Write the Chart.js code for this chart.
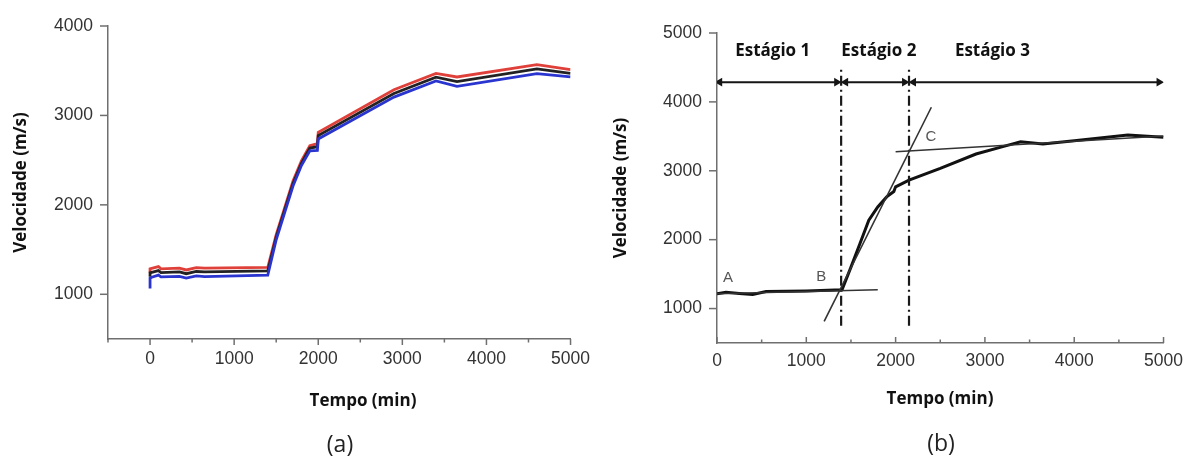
<!DOCTYPE html>
<html>
<head>
<meta charset="utf-8">
<script src="https://cdn.jsdelivr.net/npm/chart.js@4.4.1/dist/chart.umd.min.js"></script>
<style>
  body { margin: 0; background: #fff; width: 1191px; height: 456px; overflow: hidden; position: relative; font-family: "Open Sans", sans-serif; }
  .panel { position: absolute; top: 0; height: 420px; }
  #wrapA { left: 0; width: 600px; }
  #wrapB { left: 600px; width: 591px; }
  .xt { position: absolute; font-weight: bold; font-size: 17px; line-height: 20px; color: #111; transform: translateX(-50%); white-space: nowrap; }
  .cap { position: absolute; font-size: 23px; line-height: 26px; color: #222; transform: translateX(-50%); }
</style>
</head>
<body>
<div class="panel" id="wrapA"><canvas id="chartA"></canvas></div>
<div class="panel" id="wrapB"><canvas id="chartB"></canvas></div>
<div class="xt" style="left:363px;top:390px">Tempo (min)</div>
<div class="xt" style="left:940px;top:388px">Tempo (min)</div>
<div class="cap" style="left:340px;top:430px">(a)</div>
<div class="cap" style="left:941px;top:429px">(b)</div>
<script>
// ---- panel (a): three measurements ----
const timeA  = [0, 0, 20, 100, 130, 350, 430, 550, 650, 1400, 1500, 1600, 1700, 1800, 1900, 1990, 2000, 2900, 3400, 3650, 4600, 5000];
const redA   = [1245, 1285, 1290, 1310, 1285, 1292, 1272, 1298, 1292, 1302, 1668, 1967, 2268, 2493, 2661, 2685, 2811, 3288, 3470, 3430, 3569, 3513];
const blackA = [1195, 1240, 1245, 1265, 1243, 1250, 1230, 1255, 1250, 1262, 1640, 1940, 2240, 2465, 2635, 2650, 2775, 3245, 3428, 3378, 3520, 3470];
const blueA  = [1065, 1180, 1190, 1215, 1195, 1200, 1182, 1205, 1198, 1215, 1610, 1910, 2210, 2440, 2605, 2610, 2737, 3205, 3385, 3325, 3468, 3430];

// ---- panel (b): curve, tangents and stages ----
const timeB  = [0, 100, 250, 400, 550, 1000, 1400, 1500, 1600, 1700, 1800, 1900, 1980, 2000, 2150, 2500, 2900, 3200, 3400, 3650, 4000, 4600, 5000];
const velB   = [1214, 1238, 1220, 1204, 1248, 1255, 1272, 1602, 1942, 2282, 2476, 2621, 2700, 2767, 2864, 3034, 3243, 3350, 3422, 3388, 3437, 3519, 3485];
const tangentAB = [[0, 1214], [1800, 1272]];
const tangentBC = [[1200, 815], [2400, 3922]];
const tangentC  = [[2000, 3277], [5000, 3505]];
const stageBounds = [1390, 2150];
const stageLineRange = [750, 4490];
const arrowLevel = 4286;
const arrowSpans = [[30, 1340], [1440, 2100], [2200, 4950]];
const stageNames = ['Estágio 1', 'Estágio 2', 'Estágio 3'];
const stageNameX = [624, 1812, 3084];
const stageNameY = 4732;
const pointNames = ['A', 'B', 'C'];
const pointNameX = [124, 1166, 2396];
const pointNameY = [1447, 1466, 3495];

const AXIS_COLOR = '#6f6f6f';
const TICK_FONT  = { family: '"Liberation Sans", Arial, sans-serif', size: 17.5 };
const TITLE_FONT = { family: '"Open Sans", sans-serif', size: 17, weight: 'bold' };

const pts = (xs, ys) => xs.map((x, i) => ({ x, y: ys[i] }));
const pairPts = pair => pair.map(p => ({ x: p[0], y: p[1] }));

// inward/outward tick marks, longer at the labelled values
const tickMarks = {
  id: 'tickMarks',
  afterDraw(chart, args, opts) {
    const { ctx } = chart;
    const xs = chart.scales.x, ys = chart.scales.y;
    const bottom = chart.chartArea.bottom, left = chart.chartArea.left;
    ctx.save();
    ctx.strokeStyle = AXIS_COLOR;
    ctx.lineWidth = 1.5;
    for (let v = xs.min; v <= xs.max; v += 500) {
      const px = xs.getPixelForValue(v);
      const len = v % 1000 === 0 ? 6 : 3.5;
      ctx.beginPath();
      ctx.moveTo(px, bottom);
      ctx.lineTo(px, opts.xInside ? bottom - len : bottom + len);
      ctx.stroke();
    }
    for (let v = 1000; v <= ys.max; v += 1000) {
      const py = ys.getPixelForValue(v);
      ctx.beginPath();
      ctx.moveTo(left, py);
      ctx.lineTo(left - 8, py);
      ctx.stroke();
    }
    ctx.restore();
  }
};

// text placed in data coordinates
const dataText = {
  id: 'dataText',
  afterDatasetsDraw(chart, args, opts) {
    if (!opts.items) return;
    const { ctx } = chart;
    const xs = chart.scales.x, ys = chart.scales.y;
    ctx.save();
    ctx.textAlign = 'center';
    ctx.textBaseline = 'middle';
    opts.items.forEach(it => {
      ctx.font = it.font;
      ctx.fillStyle = it.color;
      ctx.fillText(it.text, xs.getPixelForValue(it.x), ys.getPixelForValue(it.y));
    });
    ctx.restore();
  }
};

function axes(cfg) {
  return {
    x: {
      type: 'linear', min: cfg.xMin, max: 5000,
      afterFit: s => { s.height = cfg.xHeight; },
      border: { color: AXIS_COLOR, width: 1.5 },
      grid: { drawOnChartArea: false, drawTicks: false },
      ticks: {
        stepSize: 500, padding: cfg.xPad, color: '#333', font: TICK_FONT, maxRotation: 0, autoSkip: false,
        callback: v => (v % 1000 === 0 && v >= 0 ? String(v) : '')
      }
    },
    y: {
      min: 500, max: cfg.yMax,
      afterFit: s => { s.width = cfg.yWidth; },
      border: { color: AXIS_COLOR, width: 1.5 },
      grid: { drawOnChartArea: false, drawTicks: false },
      title: { display: true, text: 'Velocidade (m/s)', color: '#111', font: TITLE_FONT, padding: { top: 11, bottom: 0 } },
      ticks: {
        stepSize: 500, padding: 15, color: '#333', font: TICK_FONT, autoSkip: false,
        callback: v => (v % 1000 === 0 ? String(v) : '')
      }
    }
  };
}

function lineSet(data, color, width, extra) {
  return Object.assign({
    data, borderColor: color, backgroundColor: color, borderWidth: width,
    pointRadius: 0, tension: 0, fill: false
  }, extra || {});
}

const baseOpts = {
  responsive: true,
  maintainAspectRatio: false,
  animation: false,
  plugins: { legend: { display: false }, tooltip: { enabled: false } },
};

new Chart(document.getElementById('chartA'), {
  type: 'line',
  data: {
    datasets: [
      lineSet(pts(timeA, blueA), '#2a35d0', 2.8),
      lineSet(pts(timeA, blackA), '#222222', 2.8),
      lineSet(pts(timeA, redA), '#e0403a', 2.8)
    ]
  },
  options: Object.assign({}, baseOpts, {
    layout: { padding: { top: 26, right: 28, left: 0, bottom: 0 } },
    scales: axes({ xMin: -500, yMax: 4000, xHeight: 81, yWidth: 108, xPad: 10 }),
    plugins: Object.assign({}, baseOpts.plugins, { tickMarks: { xInside: false } })
  }),
  plugins: [tickMarks]
});

const arrowSets = arrowSpans.map(span => lineSet(
  [{ x: span[0], y: arrowLevel }, { x: span[1], y: arrowLevel }], '#151515', 2,
  { pointStyle: 'triangle', pointRadius: 5, pointRotation: [-90, 90], pointBorderWidth: 0, pointBackgroundColor: '#151515' }
));
const boundSets = stageBounds.map(t => lineSet(
  [{ x: t, y: stageLineRange[0] }, { x: t, y: stageLineRange[1] }], '#1a1a1a', 2.2,
  { borderDash: [10, 4, 2, 4] }
));

const textItems = [];
stageNames.forEach((s, i) => textItems.push({ text: s, x: stageNameX[i], y: stageNameY, font: 'bold 17px "Open Sans", sans-serif', color: '#111' }));
pointNames.forEach((s, i) => textItems.push({ text: s, x: pointNameX[i], y: pointNameY[i], font: '15px "Liberation Sans", Arial, sans-serif', color: '#555' }));

new Chart(document.getElementById('chartB'), {
  type: 'line',
  data: {
    datasets: [
      lineSet(pairPts(tangentAB), '#333', 1.6),
      lineSet(pairPts(tangentBC), '#333', 1.6),
      lineSet(pairPts(tangentC), '#333', 1.6),
      ...boundSets,
      ...arrowSets,
      lineSet(pts(timeB, velB), '#111', 3)
    ]
  },
  options: Object.assign({}, baseOpts, {
    layout: { padding: { top: 33, right: 22, left: 0, bottom: 0 } },
    scales: axes({ xMin: 0, yMax: 5000, xHeight: 77, yWidth: 117, xPad: 8 }),
    plugins: Object.assign({}, baseOpts.plugins, { tickMarks: { xInside: true }, dataText: { items: textItems } })
  }),
  plugins: [tickMarks, dataText]
});
</script>
</body>
</html>
